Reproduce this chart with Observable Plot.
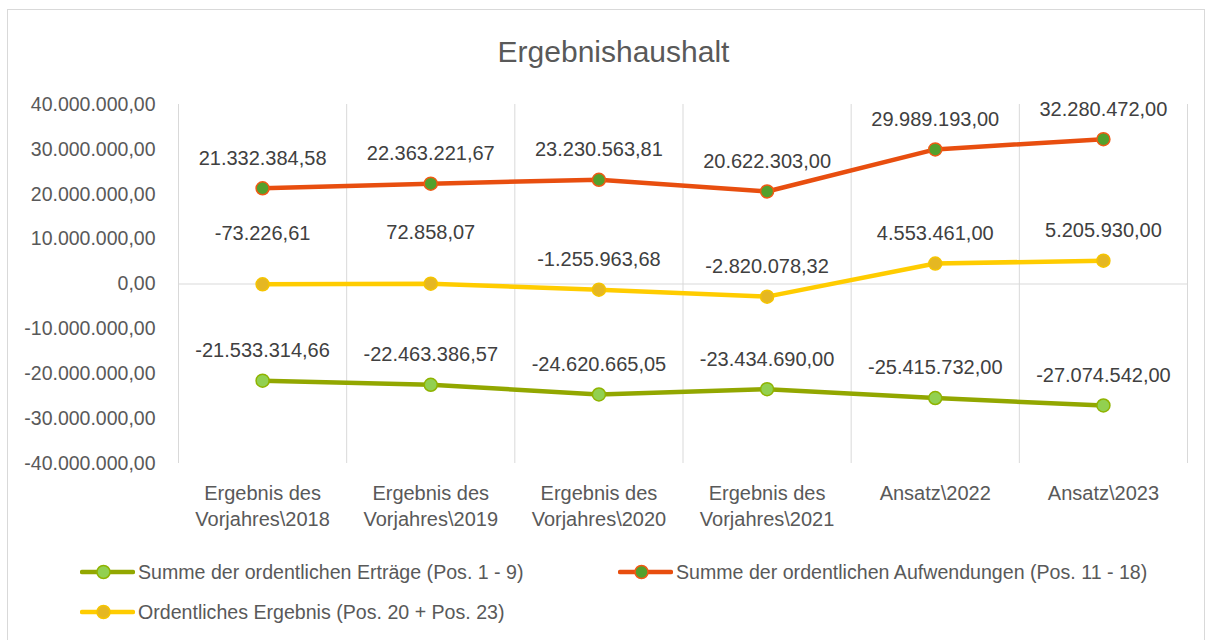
<!DOCTYPE html>
<html><head><meta charset="utf-8">
<script src="https://cdn.jsdelivr.net/npm/d3@7"></script>
<script src="https://cdn.jsdelivr.net/npm/@observablehq/plot@0.6"></script>
<style>
body{margin:0;background:#fff;font-family:"Liberation Sans",Arial,sans-serif;}
#wrap{position:relative;width:1213px;height:640px;overflow:hidden;background:#fff;}
#frame{position:absolute;left:7px;top:9px;width:1198px;height:700px;border:1px solid #d9d9d9;box-sizing:border-box;}
#title{position:absolute;top:32px;left:0;width:1227px;text-align:center;font-size:30px;color:#595959;line-height:40px;}
#chart{position:absolute;left:0;top:80px;}
.leg{position:absolute;display:flex;align-items:center;height:24px;font-size:19.6px;color:#595959;white-space:nowrap;}
.leg svg{display:block;margin-right:3px;}
</style></head><body>
<div id="wrap"><div id="frame"></div><div id="title">Ergebnishaushalt</div><div id="chart"></div><div id="legend"></div></div>
<script>
const categories = ["Ergebnis des\nVorjahres\\2018", "Ergebnis des\nVorjahres\\2019", "Ergebnis des\nVorjahres\\2020", "Ergebnis des\nVorjahres\\2021", "Ansatz\\2022", "Ansatz\\2023"];
const ertraege = [-21533314.66, -22463386.57, -24620665.05, -23434690.00, -25415732.00, -27074542.00];
const aufwendungen = [21332384.58, 22363221.67, 23230563.81, 20622303.00, 29989193.00, 32280472.00];
const ergebnis = [-73226.61, 72858.07, -1255963.68, -2820078.32, 4553461.00, 5205930.00];
const seriesNames = ["Summe der ordentlichen Erträge (Pos. 1 - 9)", "Summe der ordentlichen Aufwendungen (Pos. 11 - 18)", "Ordentliches Ergebnis (Pos. 20 + Pos. 23)"];
const yTicks = [-40000000, -30000000, -20000000, -10000000, 0, 10000000, 20000000, 30000000, 40000000];

const styles = [
  {line: "#92a700", fill: "#92d050", stroke: "#8fb300"},
  {line: "#e84e0f", fill: "#53a02c", stroke: "#ef5a14"},
  {line: "#ffcc00", fill: "#e5b722", stroke: "#f5c400"}
];
const seriesValues = [ertraege, aufwendungen, ergebnis];

const locale = d3.formatLocale({decimal: ",", thousands: ".", grouping: [3], currency: ["", ""], minus: "-"});
const fmt = locale.format(",.2f");

const rows = [];
seriesValues.forEach((vals, s) => vals.forEach((v, i) => rows.push({s, i, v})));

const bounds = d3.range(categories.length + 1).map(i => i - 0.5);

const marks = [
  Plot.ruleX(bounds, {x: d => d, y1: yTicks[0], y2: yTicks[yTicks.length - 1], stroke: "#d9d9d9", strokeWidth: 1}),
  Plot.ruleY([0], {stroke: "#d9d9d9", strokeWidth: 1}),
  Plot.axisY({ticks: yTicks, tickFormat: fmt, tickSize: 0, tickPadding: 23, fontSize: 19.5, fill: "#595959", label: null}),
  Plot.axisX({ticks: d3.range(categories.length), tickFormat: i => categories[i], tickSize: 0, tickPadding: 18, fontSize: 20, fill: "#595959", lineHeight: 1.3, label: null})
];
seriesValues.forEach((vals, s) => {
  const d = rows.filter(r => r.s === s);
  marks.push(Plot.line(d, {x: "i", y: "v", stroke: styles[s].line, strokeWidth: 4.5, curve: "linear"}));
});
seriesValues.forEach((vals, s) => {
  const d = rows.filter(r => r.s === s);
  marks.push(Plot.dot(d, {x: "i", y: "v", r: 6.5, fill: styles[s].fill, stroke: styles[s].stroke, strokeWidth: 1.5}));
});
// data labels (Ordentliches Ergebnis near zero placed higher, as in the original)
const lifted = r => r.s === 2 && Math.abs(r.v) < 100000;
marks.push(Plot.text(rows.filter(r => !lifted(r)), {x: "i", y: "v", text: d => fmt(d.v), dy: -30, fontSize: 20, fill: "#404040"}));
marks.push(Plot.text(rows.filter(lifted), {x: "i", y: "v", text: d => fmt(d.v), dy: -51, fontSize: 20, fill: "#404040"}));

const chart = Plot.plot({
  width: 1213,
  height: 470,
  marginLeft: 178,
  marginRight: 26,
  marginTop: 24,
  marginBottom: 87,
  style: {fontFamily: '"Liberation Sans", Arial, sans-serif', fontSize: "20px", background: "transparent", overflow: "visible"},
  x: {type: "linear", domain: [-0.5, categories.length - 0.5], label: null},
  y: {domain: [yTicks[0], yTicks[yTicks.length - 1]], label: null},
  marks
});
document.getElementById("chart").appendChild(chart);

// legend
const legendPos = [{left: 80, top: 560}, {left: 618, top: 560}, {left: 80, top: 600}];
const legend = document.getElementById("legend");
seriesNames.forEach((name, s) => {
  const div = document.createElement("div");
  div.className = "leg";
  div.style.left = legendPos[s].left + "px";
  div.style.top = legendPos[s].top + "px";
  const st = styles[s];
  div.innerHTML = `<svg width="55" height="24"><line x1="2" x2="53" y1="12" y2="12" stroke="${st.line}" stroke-width="4.5" stroke-linecap="round"/><circle cx="23.5" cy="12" r="6.5" fill="${st.fill}" stroke="${st.stroke}" stroke-width="1.5"/></svg><span>${name}</span>`;
  legend.appendChild(div);
});
</script>
</body></html>
